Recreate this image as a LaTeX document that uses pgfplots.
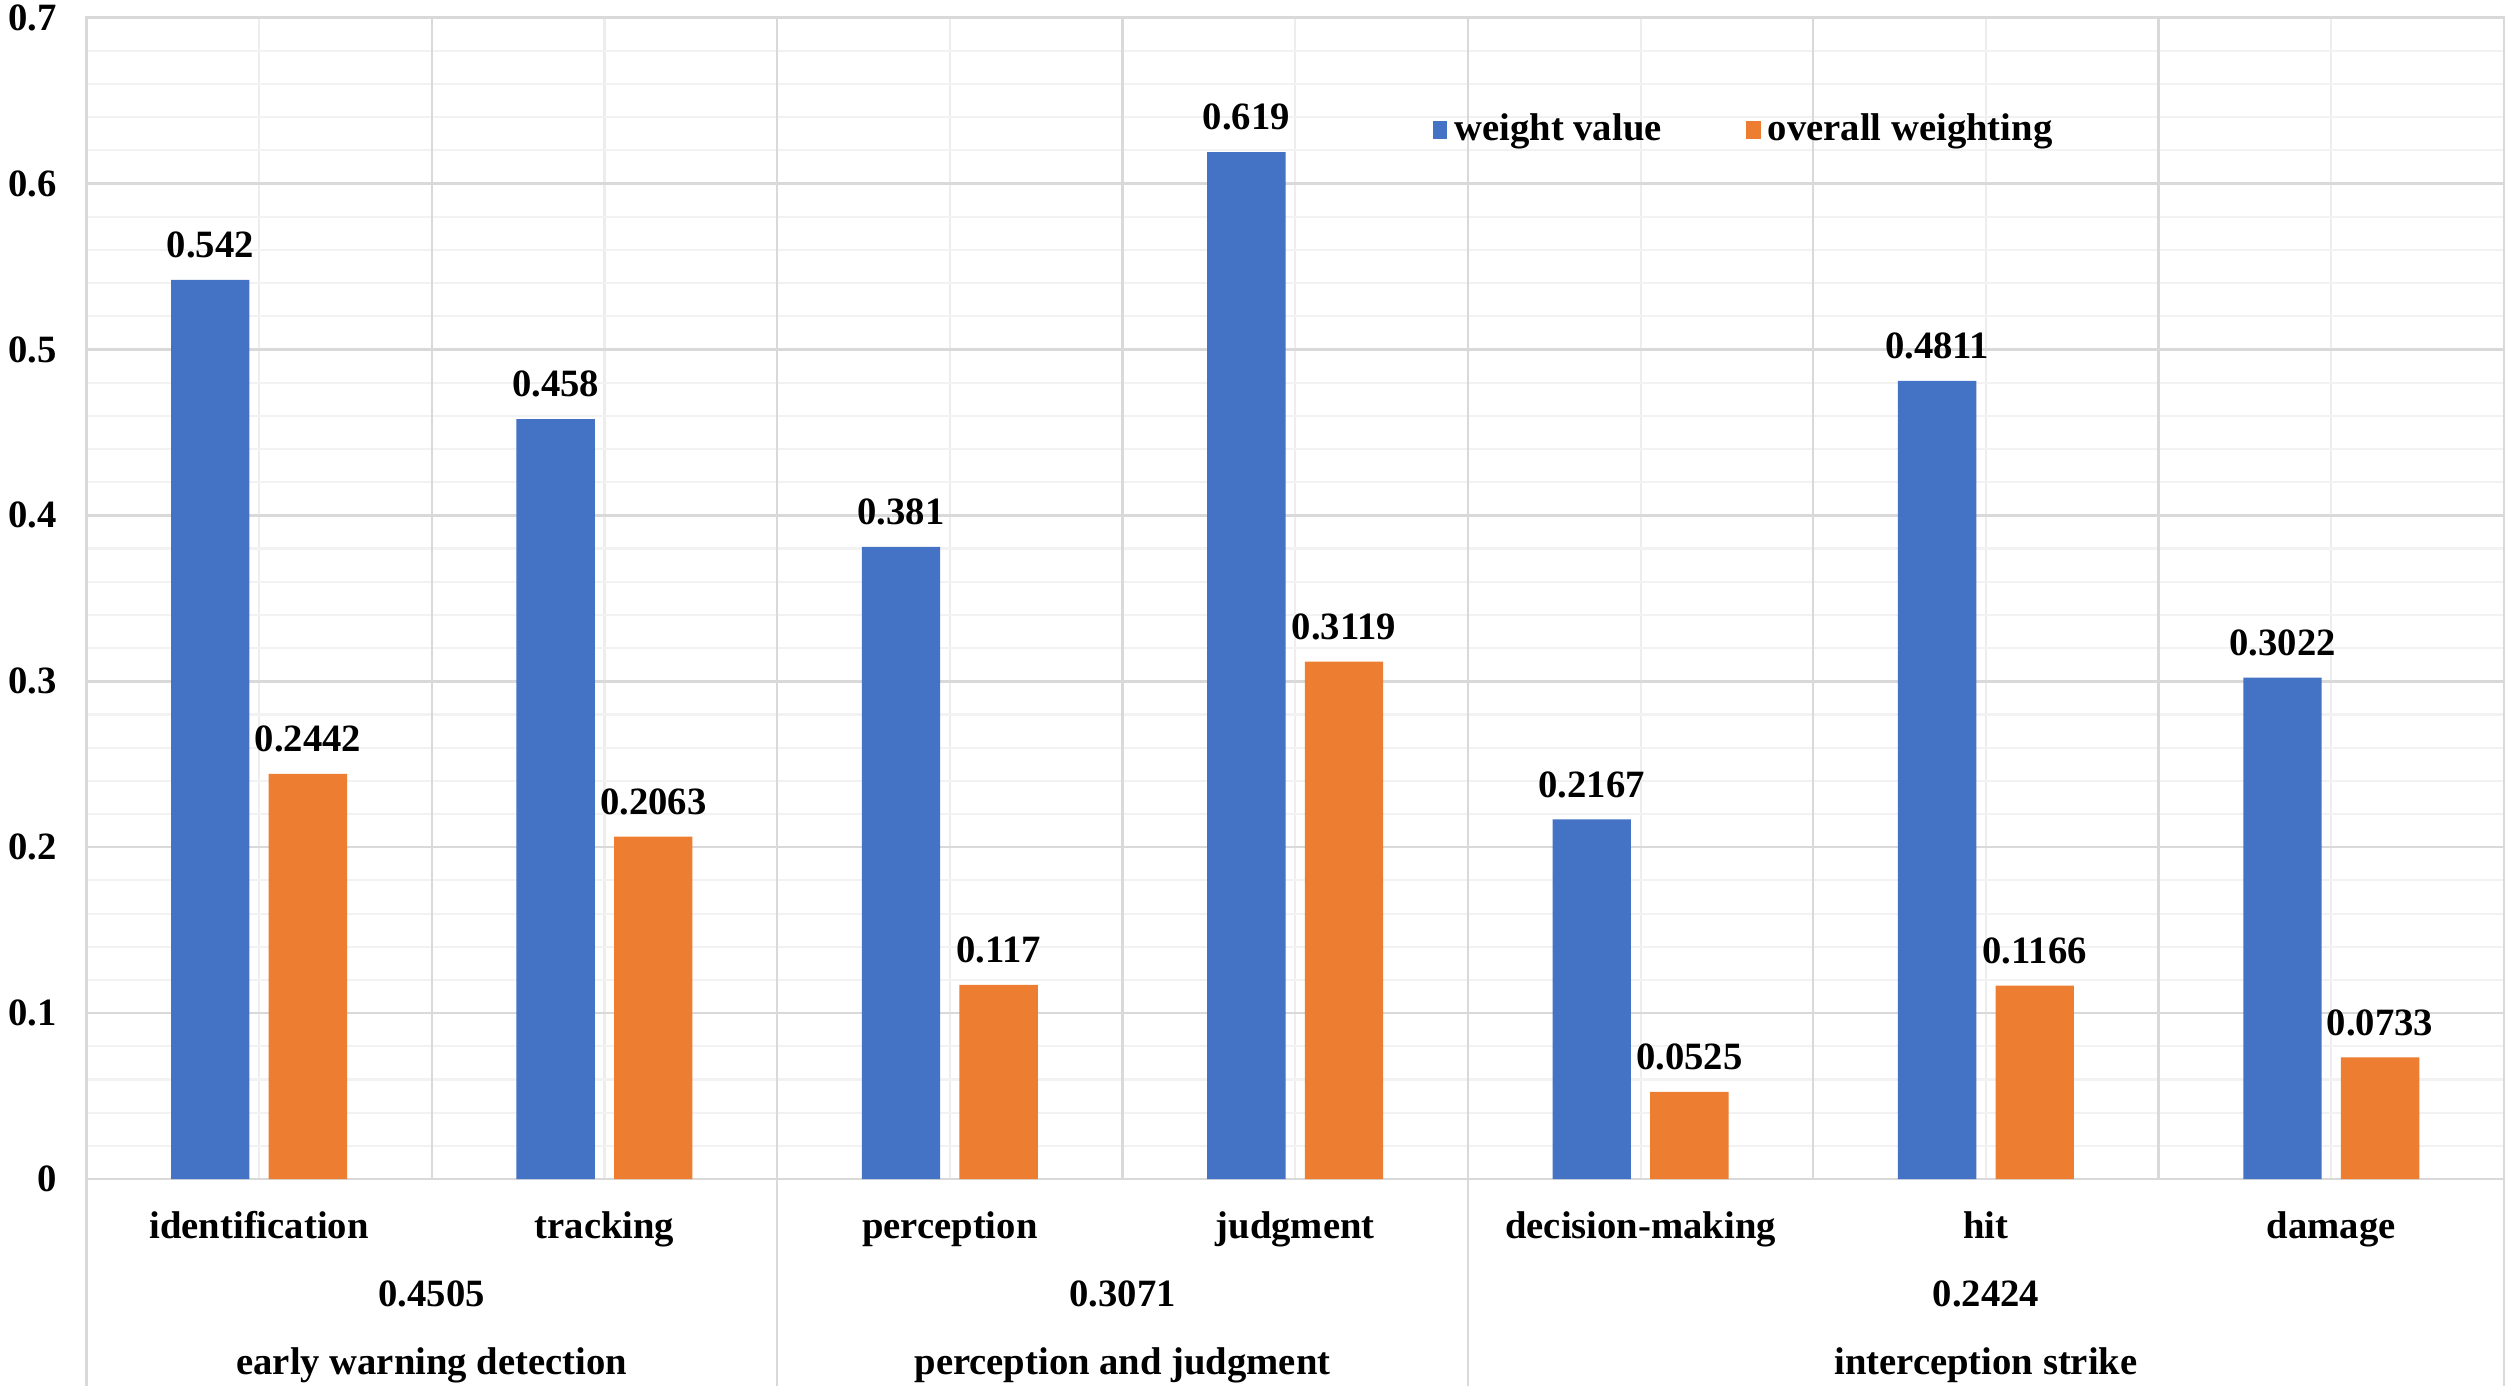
\documentclass[border=0pt]{standalone}
\usepackage{fontspec}
\setmainfont{Liberation Serif}
\usepackage{pgfplots}
\pgfplotsset{compat=1.18}
\definecolor{wblue}{HTML}{4472C4}
\definecolor{worange}{HTML}{ED7D31}
\definecolor{gmaj}{HTML}{D9D9D9}
\definecolor{gmin}{HTML}{F2F2F2}
\definecolor{gctr}{HTML}{EDEDED}
\newcommand{\lab}{\fontsize{11}{13}\selectfont\bfseries}
\pgfplotsset{sqlegend/.style={legend image code/.code={\fill[##1] (0pt,-2.6pt) rectangle (4.2pt,2.6pt);}}}

\begin{document}
\begin{tikzpicture}
\begin{axis}[
    at={(0,0)}, anchor=south west,
    scale only axis, width=24.176cm, height=11.614cm,
    xmin=-0.5, xmax=6.5, ymin=0, ymax=0.7,
    ybar, bar width=0.784cm,
    clip=false,
    axis line style={draw=gmaj, line width=0.7pt},
    xtick={0,...,6}, xticklabels={},
    ytick={0,0.1,0.2,0.3,0.4,0.5,0.6,0.7},
    minor y tick num=4,
    major tick length=0pt, minor tick length=0pt,
    xmajorgrids, ymajorgrids, yminorgrids,
    major x grid style={draw=gctr, line width=0.6pt},
    major y grid style={draw=gmaj, line width=0.7pt},
    minor y grid style={draw=gmin, line width=0.6pt},
    extra x ticks={0.5,1.5,2.5,3.5,4.5,5.5},
    extra x tick labels={},
    extra x tick style={xmajorgrids=true, major x grid style={draw=gmaj, line width=0.7pt}},
    /pgf/number format/assume math mode=true,
    /pgf/number format/fixed,
    /pgf/number format/precision=4,
    yticklabel style={font=\lab, xshift=-5pt},
    nodes near coords,
    every node near coord/.append style={font=\lab, anchor=south, inner sep=0pt, yshift=6pt, text=black},
    legend style={at={(axis cs:3.396,0.6323)}, anchor=west, draw=none, fill=none,
        inner sep=0pt, font=\lab, legend columns=2,
        /tikz/every even column/.append style={column sep=22pt}},
]

\addplot[fill=wblue, draw=none, bar shift=-0.488cm, sqlegend]
    coordinates {(0,0.542) (1,0.458) (2,0.381) (3,0.619) (4,0.2167) (5,0.4811) (6,0.3022)};
\addlegendentry{weight value}

\addplot[fill=worange, draw=none, bar shift=0.488cm, sqlegend]
    coordinates {(0,0.2442) (1,0.2063) (2,0.117) (3,0.3119) (4,0.0525) (5,0.1166) (6,0.0733)};
\addlegendentry{overall weighting}

% group separators continue below the axis
\draw[gmaj, line width=0.7pt] (axis cs:-0.5,0) -- ([yshift=-2.07cm]axis cs:-0.5,0);
\draw[gmaj, line width=0.7pt] (axis cs:1.5,0) -- ([yshift=-2.07cm]axis cs:1.5,0);
\draw[gmaj, line width=0.7pt] (axis cs:3.5,0) -- ([yshift=-2.07cm]axis cs:3.5,0);
\draw[gmaj, line width=0.7pt] (axis cs:6.5,0) -- ([yshift=-2.07cm]axis cs:6.5,0);

% category names
\node[font=\lab, anchor=base] at ([yshift=-0.59cm]axis cs:0,0) {identification};
\node[font=\lab, anchor=base] at ([yshift=-0.59cm]axis cs:1,0) {tracking};
\node[font=\lab, anchor=base] at ([yshift=-0.59cm]axis cs:2,0) {perception};
\node[font=\lab, anchor=base] at ([yshift=-0.59cm]axis cs:3,0) {judgment};
\node[font=\lab, anchor=base] at ([yshift=-0.59cm]axis cs:4,0) {decision-making};
\node[font=\lab, anchor=base] at ([yshift=-0.59cm]axis cs:5,0) {hit};
\node[font=\lab, anchor=base] at ([yshift=-0.59cm]axis cs:6,0) {damage};

% group weights and names
\node[font=\lab, anchor=base] at ([yshift=-1.27cm]axis cs:0.5,0) {0.4505};
\node[font=\lab, anchor=base] at ([yshift=-1.27cm]axis cs:2.5,0) {0.3071};
\node[font=\lab, anchor=base] at ([yshift=-1.27cm]axis cs:5,0) {0.2424};
\node[font=\lab, anchor=base] at ([yshift=-1.95cm]axis cs:0.5,0) {early warning detection};
\node[font=\lab, anchor=base] at ([yshift=-1.95cm]axis cs:2.5,0) {perception and judgment};
\node[font=\lab, anchor=base] at ([yshift=-1.95cm]axis cs:5,0) {interception strike};
\end{axis}
\pgfresetboundingbox
\path (-0.864,-2.11) rectangle (24.226,11.79);
\end{tikzpicture}
\end{document}
